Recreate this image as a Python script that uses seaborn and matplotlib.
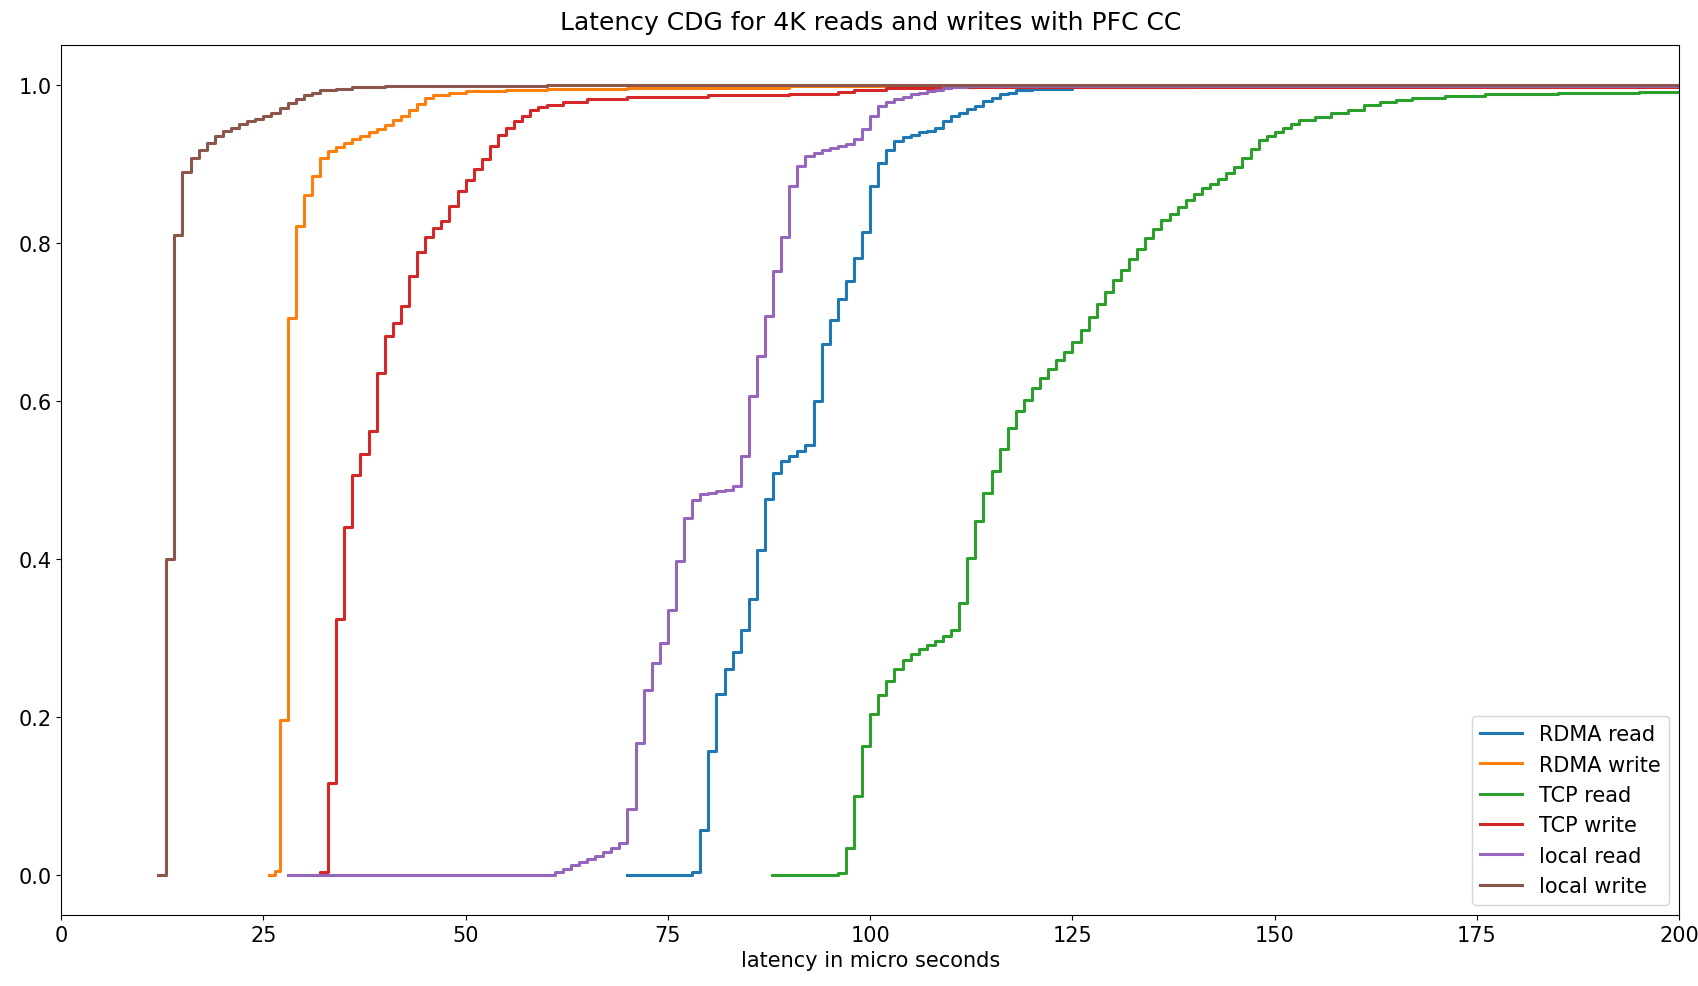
import matplotlib
matplotlib.use("Agg")
import matplotlib.pyplot as plt
import seaborn as sns

# step positions (micro seconds) and cumulative fraction
rdma_read_x = [70, 78, 79, 80, 81, 82, 83, 84, 85, 86, 87, 88, 89, 90, 91, 92, 93, 94, 95, 96,
               97, 98, 99, 100, 101, 102, 103, 104, 105, 106, 107, 108, 109, 110, 111, 112,
               113, 114, 115, 116, 117, 118, 120, 125, 140, 205]
rdma_read_y = [0.0, 0.004, 0.057, 0.157, 0.229, 0.261, 0.282, 0.311, 0.350, 0.412, 0.476, 0.509,
               0.524, 0.530, 0.537, 0.545, 0.600, 0.672, 0.703, 0.729, 0.752, 0.781, 0.814, 0.872,
               0.901, 0.918, 0.929, 0.934, 0.937, 0.940, 0.942, 0.946, 0.954, 0.961, 0.965, 0.969,
               0.973, 0.980, 0.984, 0.988, 0.990, 0.993, 0.995, 0.997, 0.998, 0.998]

rdma_write_x = [25.7, 26.4, 27, 28, 29, 30, 31, 32, 33, 34, 35, 36, 37, 38, 39, 40, 41, 42, 43,
                44, 45, 46, 48, 50, 55, 60, 70, 90, 205]
rdma_write_y = [0.0, 0.005, 0.197, 0.705, 0.821, 0.861, 0.885, 0.908, 0.916, 0.922, 0.927, 0.931,
                0.935, 0.940, 0.944, 0.949, 0.955, 0.961, 0.968, 0.976, 0.983, 0.987, 0.990, 0.992,
                0.994, 0.995, 0.996, 0.998, 0.998]

tcp_read_x = [87.8, 96, 97, 98, 99, 100, 101, 102, 103, 104, 105, 106, 107, 108, 109, 110, 111,
              112, 113, 114, 115, 116, 117, 118, 119, 120, 121, 122, 123, 124, 125, 126, 127, 128,
              129, 130, 131, 132, 133, 134, 135, 136, 137, 138, 139, 140, 141, 142, 143, 144, 145,
              146, 147, 148, 149, 150, 151, 152, 153, 155, 157, 159, 161, 163, 165, 167, 171, 176,
              185, 195, 205]
tcp_read_y = [0.0, 0.003, 0.035, 0.101, 0.164, 0.204, 0.228, 0.246, 0.261, 0.273, 0.280, 0.286,
              0.291, 0.296, 0.303, 0.311, 0.345, 0.402, 0.448, 0.484, 0.511, 0.539, 0.566, 0.587,
              0.601, 0.616, 0.629, 0.641, 0.652, 0.662, 0.675, 0.690, 0.707, 0.723, 0.738, 0.753,
              0.766, 0.780, 0.793, 0.806, 0.818, 0.829, 0.837, 0.845, 0.854, 0.862, 0.869, 0.875,
              0.881, 0.888, 0.896, 0.907, 0.919, 0.930, 0.936, 0.941, 0.946, 0.951, 0.955, 0.960,
              0.964, 0.968, 0.974, 0.978, 0.981, 0.984, 0.986, 0.988, 0.990, 0.991, 0.991]

tcp_write_x = [31, 32, 33, 34, 35, 36, 37, 38, 39, 40, 41, 42, 43, 44, 45, 46, 47, 48, 49, 50, 51,
               52, 53, 54, 55, 56, 57, 58, 59, 60, 62, 65, 70, 80, 90, 96, 98, 102, 110, 205]
tcp_write_y = [0.0, 0.004, 0.117, 0.324, 0.441, 0.507, 0.533, 0.562, 0.636, 0.682, 0.699, 0.720,
               0.758, 0.788, 0.807, 0.819, 0.828, 0.847, 0.866, 0.880, 0.893, 0.906, 0.923, 0.937,
               0.946, 0.954, 0.961, 0.968, 0.972, 0.975, 0.978, 0.982, 0.985, 0.987, 0.989, 0.991,
               0.994, 0.996, 0.997, 0.997]

local_read_x = [28, 61, 62, 63, 64, 65, 66, 67, 68, 69, 70, 71, 72, 73, 74, 75, 76, 77, 78, 79,
                80, 81, 82, 83, 84, 85, 86, 87, 88, 89, 90, 91, 92, 93, 94, 95, 96, 97, 98, 99,
                100, 101, 102, 103, 104, 105, 106, 107, 108, 109, 110, 112, 120, 205]
local_read_y = [0.0, 0.004, 0.008, 0.013, 0.017, 0.021, 0.025, 0.030, 0.035, 0.041, 0.084, 0.167,
                0.235, 0.269, 0.294, 0.336, 0.398, 0.452, 0.475, 0.482, 0.484, 0.486, 0.488, 0.493,
                0.530, 0.606, 0.657, 0.708, 0.764, 0.807, 0.872, 0.897, 0.910, 0.914, 0.918, 0.920,
                0.923, 0.925, 0.931, 0.944, 0.961, 0.973, 0.978, 0.982, 0.985, 0.988, 0.990, 0.992,
                0.994, 0.996, 0.997, 0.998, 0.999, 0.999]

local_write_x = [12, 13, 14, 15, 16, 17, 18, 19, 20, 21, 22, 23, 24, 25, 26, 27, 28, 29, 30, 31,
                 32, 34, 36, 40, 60, 205]
local_write_y = [0.0, 0.40, 0.81, 0.89, 0.908, 0.918, 0.927, 0.935, 0.942, 0.946, 0.950, 0.954,
                 0.957, 0.961, 0.965, 0.971, 0.977, 0.982, 0.987, 0.990, 0.993, 0.995, 0.997,
                 0.998, 1.0, 1.0]

series = [
    ("RDMA read", rdma_read_x, rdma_read_y),
    ("RDMA write", rdma_write_x, rdma_write_y),
    ("TCP read", tcp_read_x, tcp_read_y),
    ("TCP write", tcp_write_x, tcp_write_y),
    ("local read", local_read_x, local_read_y),
    ("local write", local_write_x, local_write_y),
]
colors = sns.color_palette("tab10", 6)

plt.rcParams["font.size"] = 15

fig = plt.figure(figsize=(16.98, 9.87), dpi=100)
ax = fig.add_axes([0.036, 0.072, 0.953, 0.881])

# each CDF as a step line
for (name, xs, ys), c in zip(series, colors):
    sns.lineplot(x=xs, y=ys, ax=ax, color=c, label=name, drawstyle="steps-post",
                 linewidth=2.2, estimator=None)

ax.set_xlim(0, 200)
ax.set_ylim(-0.05, 1.05)
ax.set_title("Latency CDG for 4K reads and writes with PFC CC", fontsize=18, pad=12)
ax.set_xlabel("latency in micro seconds")
ax.set_ylabel("")
ax.legend(loc="lower right", fontsize=15)

fig.savefig("out.png", dpi=100)
